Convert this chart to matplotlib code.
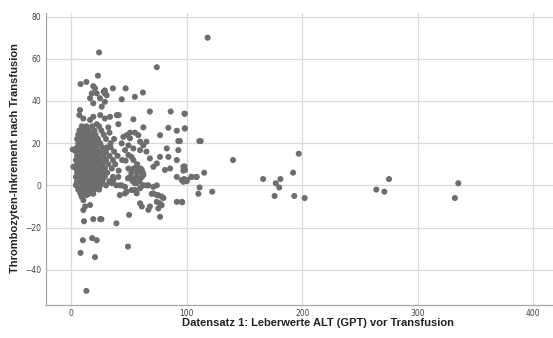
import matplotlib
matplotlib.use("Agg")
import matplotlib.pyplot as plt

# ALT (GPT) before transfusion and platelet increment after transfusion
# sparse cases
alt_sparse = [118, 74, 24, 23, 8, 13, 19, 20.5, 28, 29, 36, 47, 62, 55, 17.7, 22, 29, 16.2, 24.8, 30.6,
              43.6, 29, 26.3, 19, 7.5, 6.9, 10.4, 16.2, 19, 25, 22, 29, 33.5, 39.3, 40.7, 32,
              68, 86, 98, 62.3, 76.8, 84, 91.3, 98.4, 92.6, 110.8, 53.7, 41, 50.8, 55, 58,
              45, 50.8, 59.5, 65, 49.4, 53.7, 59.5, 65, 62.3, 68, 76.8, 84, 82.6, 92.6,
              71, 74, 81, 85.5, 91.3, 97, 91.3, 98.4, 104, 108.6, 100, 58, 62.3, 59.5, 53.7,
              65, 59.5, 71, 71, 74, 78.2, 61, 68, 66.7, 74, 76.8, 75.3, 76.8, 91.3, 95.6,
              50, 39, 19, 25, 26, 11, 1.2, 1.7, 4.7, 7.5, 9, 10.4, 13.3, 16.2, 11.9, 10.4,
              10, 18, 22, 8, 20.5, 49, 13, 48, 43.6, 46.5, 49.4, 53.7, 56.6, 61,
              98.2, 98.2, 94, 112, 140, 196.9, 98, 97, 104, 108, 115, 97.6, 100, 111, 110,
              122, 96, 166, 177, 181, 180, 176, 192, 193, 202, 264, 271, 275, 335, 332,
              42, 46.5, 56.6, 62, 66.7, 74, 69.6, 75.3, 79.7, 59.5, 78.2, 95.6, 97, 49,
              52.3, 55, 40.7, 36.4, 52, 47, 49.4, 50.8, 55, 43.6, 39, 48, 56.6, 42, 46.5,
              36, 38, 40, 34, 37, 33, 41, 44, 35]
inc_sparse = [70, 56, 63, 52, 48, 49, 47, 46, 44.4, 45, 46, 46, 44, 42, 43.6, 43.6, 43.6, 41.3, 41.3, 42.7,
              40.8, 39.6, 37.3, 38.9, 35.7, 33.3, 31.7, 31, 32.5, 33.3, 29, 31.7, 32.5, 33.3, 29, 27.5,
              35, 35, 34, 27.5, 23.8, 27.3, 25.9, 27, 21, 21, 31.3, 33.3, 25, 25, 23.8,
              23, 22.3, 20.7, 20.7, 19, 17.5, 16.7, 16, 19, 12.8, 13.5, 13.5, 17.5, 16.7,
              8.8, 10.4, 7.3, 8, 12, 8.8, 4, 7.3, 4, 4, 2.5, 7.3, 4.9, 3.3, 3.3,
              0, -1.4, -0.7, -3.8, -4.6, -5.3, -10, -10, -11.6, -7.8, -8.5, -10.9, -14.9, -7.8, -7.8,
              -14, -18, -16, -16, -16, -17, 17, 8.8, 1, -3, -5.4, -7, -4.6, -9.3, -10, -11.7,
              -26, -25, -26, -32, -34, -29, -50, 23.8, 19.9, 16.7, 14.4, 12, 8.8, 7.3,
              33.9, 27, 21, 21, 12, 15, 9, 7, 4, 4, 6, 3, 2, -1, -4,
              -3, -8, 3, 1, 3, -1, -5, 6, -5, -6, -2, -3, 3, 1, -6,
              0, -0.7, 1, 0, 0, 0, -4, -4.7, -6, -8.5, -9.4, 2.5, 1.7, 3.3,
              -2.2, -2.2, 4, 2.5, 13.5, 11.7, 8, 4, 1, 0, 0, -3, -3.8, -4.6, -3.8,
              4, 10, 14, 18, 22, 25, 7, 12, 1]

# dense core of low ALT values, listed row by row (increment: ALT values)
core_rows = {
    28: [9, 13, 18, 24],
    26: [7, 11, 15, 20, 26],
    24: [6, 10, 14, 17, 21, 28],
    22: [5, 9, 12, 16, 19, 23, 30],
    20: [6, 10, 13, 17, 21, 25, 34],
    18: [5, 8, 12, 15, 19, 22, 27, 31],
    16: [4, 7, 11, 14, 18, 21, 25, 30, 37],
    14: [5, 9, 12, 16, 19, 23, 28, 33],
    12: [4, 7, 10, 14, 17, 21, 25, 30, 36],
    10: [5, 8, 12, 15, 19, 23, 27, 32, 57],
    8: [4, 7, 10, 14, 17, 21, 25, 29, 35, 54, 60],
    6: [5, 8, 12, 15, 19, 23, 27, 31, 52, 57, 62],
    4: [4, 7, 10, 14, 17, 21, 25, 29, 56, 61],
    2: [5, 8, 12, 15, 19, 23, 27, 33, 53, 59],
    0: [4, 7, 10, 14, 17, 21, 25, 30, 62],
    -2: [6, 9, 13, 16, 20, 24],
    -4: [8, 12, 15, 19],
}

alt_core = [x for y, xs in core_rows.items() for x in xs]
inc_core = [y for y, xs in core_rows.items() for x in xs]

alt = alt_sparse + alt_core
inc = inc_sparse + inc_core

x_ticks = [0, 100, 200, 300, 400]
y_ticks = [-40, -20, 0, 20, 40, 60, 80]

plt.rcParams['font.family'] = ['Liberation Sans', 'DejaVu Sans']

fig = plt.figure(figsize=(5.53, 3.38), dpi=100)
ax = fig.add_axes([45.7 / 553, 1 - 305 / 338, (553 - 45.7) / 553, (305 - 13) / 338])

ax.scatter(alt, inc, s=19, color='#6d6d6d', edgecolors='none', zorder=3)

ax.set_xlim(-22.2, 417)
ax.set_ylim(-56.7, 81.7)
ax.set_xticks(x_ticks)
ax.set_yticks(y_ticks)
ax.tick_params(length=0, labelsize=5.5, labelcolor='#444444', pad=3)
for lab in ax.get_xticklabels() + ax.get_yticklabels():
    lab.set_family('DejaVu Sans')

ax.grid(True, color='#dadada', linewidth=0.9, zorder=0)
ax.set_axisbelow(True)
for side in ('top', 'right'):
    ax.spines[side].set_visible(False)
for side in ('left', 'bottom'):
    ax.spines[side].set_color('#a8a8a8')
    ax.spines[side].set_linewidth(0.9)

ax.set_xlabel('Datensatz 1: Leberwerte ALT (GPT) vor Transfusion', fontsize=8, fontweight='bold', color='#222222')
ax.set_ylabel('Thrombozyten-Inkrement nach Transfusion', fontsize=8, fontweight='bold', color='#222222')
ax.xaxis.set_label_coords((318.5 - 45.7) / (553 - 45.7), -(323 - 305) / (305 - 13))
ax.yaxis.set_label_coords(-(45.7 - 15.5) / (553 - 45.7), (305 - 158) / (305 - 13))
ax.xaxis.label.set_va('center')
ax.yaxis.label.set_va('center')

fig.savefig('out.png', dpi=100)
